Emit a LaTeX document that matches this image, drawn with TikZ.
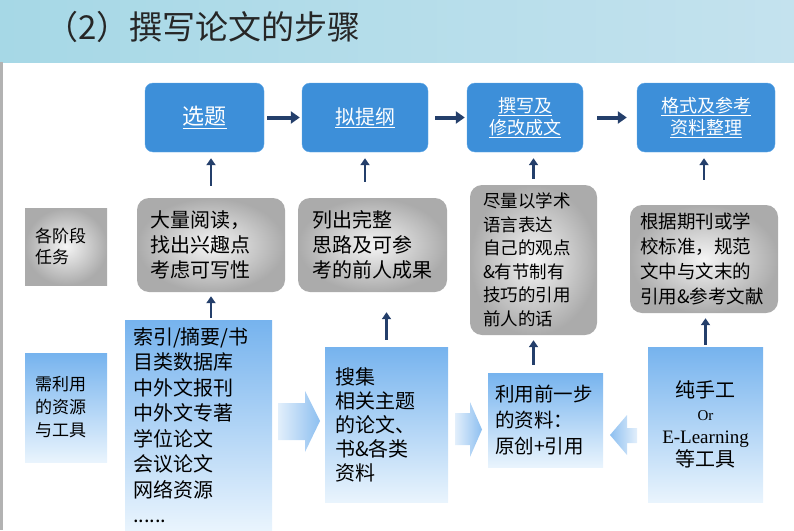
\documentclass[tikz,border=0pt]{standalone}
\usepackage{fontspec}
\setmainfont{Noto Sans CJK SC}
\newfontfamily\serifen{Liberation Serif}
\usetikzlibrary{arrows.meta}

\definecolor{stepblue}{HTML}{3D8FD9}
\definecolor{stepedge}{HTML}{62A9E8}
\definecolor{navy}{HTML}{243F6B}
\definecolor{taskgray}{HTML}{ABABAB}
\definecolor{toolblue}{HTML}{76B3EE}
\definecolor{toollight}{HTML}{E9F4FD}
\definecolor{fadeblue}{HTML}{8DBFF0}
\definecolor{titleblue}{HTML}{A6D8E6}
\definecolor{titleyellow}{HTML}{EDE7B5}
\definecolor{titleblue2}{HTML}{C4E2EE}
\newcommand\fsz[2]{\fontsize{#1}{#2}\selectfont}

\begin{document}
\begin{tikzpicture}[x=1pt, y=-1pt, >=Stealth,
    topbox/.style={draw=stepedge, fill=stepblue, rounded corners=8pt, text=white,
      align=center, minimum height=69pt, inner sep=2pt},
    taskbox/.style={rounded corners=12pt, inner color=gray!8, outer color=taskgray,
      align=left, inner ysep=4pt, text=black},
    toolbox/.style={top color=toolblue, bottom color=toollight, align=left,
      inner ysep=4pt, text=black},
    labelbox/.style={align=left, inner xsep=10pt, text width=62pt},
    flowarrow/.style={->, draw=navy, line width=4pt, -{Triangle[length=9pt,width=12pt]}},
    uparrow/.style={draw=navy, line width=2.5pt, -{Triangle[length=7pt,width=9pt]}},
    rightfade/.style={left color=fadeblue!25, right color=fadeblue},
    leftfade/.style={left color=fadeblue, right color=fadeblue!25}]
  \useasboundingbox (0,0) rectangle (794,530);
  \shade[left color=titleblue, middle color=titleyellow, right color=titleblue2]
    (0,0) rectangle (794,62);
  \draw[gray!60, line width=3pt] (1.5,62) -- (1.5,530);
  \node[anchor=west, font=\fsz{33}{36}, text=black!85] (title) at (42,27)
    {（2）撰写论文的步骤};

  \node[topbox, minimum width=119pt, font=\fsz{22}{26}] (t1) at (204.5,117.5) {\underline{选题}};
  \node[topbox, minimum width=126pt, font=\fsz{20}{24}] (t2) at (365,117.5) {\underline{拟提纲}};
  \node[topbox, minimum width=116pt, font=\fsz{18}{22}] (t3) at (525,117.5)
    {\underline{撰写及}\\\underline{修改成文}};
  \node[topbox, minimum width=138pt, font=\fsz{18}{22}] (t4) at (706,117.5)
    {\underline{格式及参考}\\\underline{资料整理}};

  \node[labelbox, inner color=gray!8, outer color=taskgray, minimum height=77pt,
    font=\fsz{17}{21}] (gl) at (66,246.5) {各阶段\\任务};
  \node[taskbox, inner xsep=13pt, text width=122pt, minimum height=94pt,
    font=\fsz{20}{25}] (g1) at (211,245) {大量阅读，\\找出兴趣点\\考虑可写性};
  \node[taskbox, inner xsep=14pt, text width=121pt, minimum height=94pt,
    font=\fsz{20}{25}] (g2) at (372.5,245) {列出完整\\思路及可参\\考的前人成果};
  \node[taskbox, inner xsep=13pt, text width=101pt, minimum height=150pt,
    font=\fsz{17.5}{23.5}] (g3) at (533.5,260)
    {尽量以学术\\语言表达\\自己的观点\\\&有节制有\\技巧的引用\\前人的话};
  \node[taskbox, inner xsep=10pt, text width=128pt, minimum height=108pt,
    font=\fsz{18.5}{25}] (g4) at (704,259)
    {根据期刊或学\\校标准，规范\\文中与文末的\\引用\&参考文献};

  \node[labelbox, top color=toolblue, bottom color=toollight, minimum height=109pt,
    font=\fsz{17}{23}] (bl) at (66,407.5) {需利用\\的资源\\与工具};
  \node[toolbox, inner xsep=8pt, text width=131pt, minimum height=210pt,
    font=\fsz{20}{25.5}] (b1) at (198.5,425)
    {索引/摘要/书\\目类数据库\\中外文报刊\\中外文专著\\学位论文\\会议论文\\网络资源\\......};
  \node[toolbox, inner xsep=10pt, text width=103pt, minimum height=155pt,
    font=\fsz{20}{24}] (b2) at (386.5,424.5) {搜集\\相关主题\\的论文、\\书\&各类\\资料};
  \node[toolbox, inner xsep=7pt, text width=101pt, minimum height=94pt,
    font=\fsz{19.5}{26}] (b3) at (545.5,420) {利用前一步\\的资料：\\原创+引用};
  \node[toolbox, align=center, inner xsep=4pt, text width=107pt, minimum height=155pt,
    font=\fsz{20}{23}] (b4) at (705.5,424.5)
    {纯手工\\{\serifen\fsz{15}{18}Or}\\{\serifen\fsz{19}{24}E-Learning}\\等工具};

  \shade[rightfade] (278,403) -- (305,403) -- (305,391) -- (320,421) -- (305,452)
    -- (305,440) -- (278,440) -- cycle;
  \shade[rightfade] (455,413) -- (470,413) -- (470,402) -- (482,429.5) -- (470,457)
    -- (470,445) -- (455,445) -- cycle;
  \shade[leftfade] (637,428) -- (627,428) -- (627,415) -- (610,435) -- (627,455)
    -- (627,443) -- (637,443) -- cycle;

  \draw[flowarrow, shorten <=3pt, shorten >=2pt] (t1) -- (t2);
  \draw[flowarrow, shorten <=7pt, shorten >=2pt] (t2) -- (t3);
  \draw[flowarrow, shorten <=14pt, shorten >=10pt] (t3) -- (t4);

  \draw[uparrow, shorten <=12pt, shorten >=6pt] (g1.north) -- (g1.north |- t1.south);
  \draw[uparrow, shorten <=16pt, shorten >=6pt] (t2.south |- g2.north) -- (t2.south);
  \draw[uparrow, shorten <=6pt, shorten >=6pt] (g3.north) -- (g3.north |- t3.south);
  \draw[uparrow, shorten <=25pt, shorten >=6pt] (g4.north) -- (g4.north |- t4.south);

  \draw[uparrow, shorten <=2pt, shorten >=4pt] (b1.north -| g1.south) -- (g1.south);
  \draw[uparrow, shorten <=7pt, shorten >=20pt] (b2.north) -- (b2.north |- g2.south);
  \draw[uparrow, shorten <=8pt, shorten >=5pt] (b3.north -| g3.south) -- (g3.south);
  \draw[uparrow, shorten <=2pt, shorten >=5pt] (b4.north) -- (b4.north |- g4.south);
\end{tikzpicture}
\end{document}
